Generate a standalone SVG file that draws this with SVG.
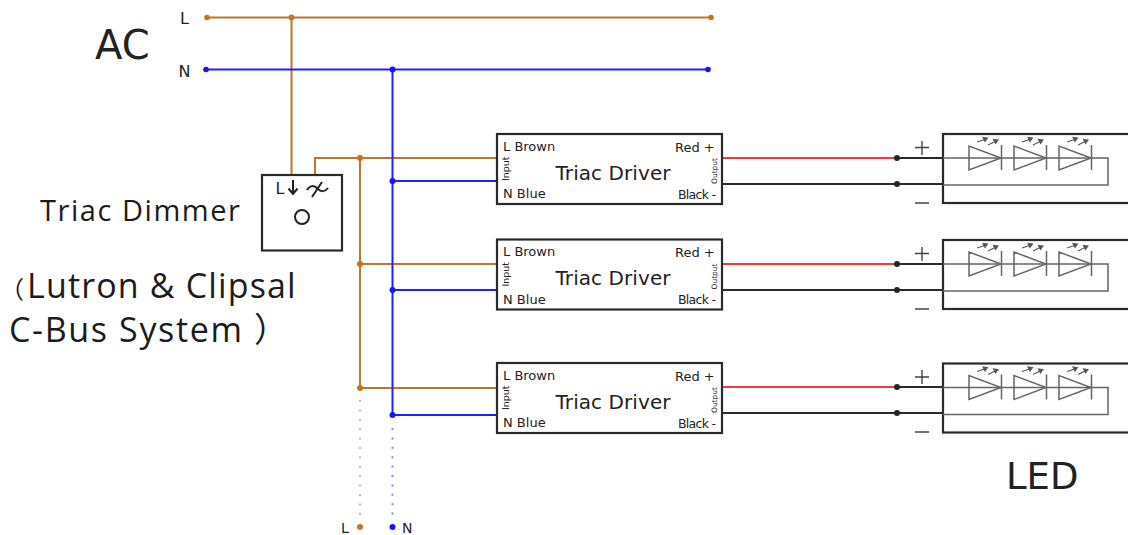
<svg xmlns="http://www.w3.org/2000/svg" width="1128" height="535" viewBox="0 0 1128 535">
<style>
text{font-family:"DejaVu Sans","Noto Sans",sans-serif;fill:#222}
.big{font-family:"Open Sans","Noto Sans CJK SC",sans-serif;fill:#1c1c1c}
.w{fill:none;stroke-width:2}
.br{stroke:#b9772f}.bl{stroke:#2020ff}.rd{stroke:#f23a40}.bk{stroke:#2a2a2a}
.box{fill:#fff;stroke:#2a2a2a;stroke-width:2.2}
.thin{fill:none;stroke:#666;stroke-width:1.5}
.arr{fill:#555;stroke:#555;stroke-width:1.1}
.t13{font-size:13px}.t12{font-size:12.500px}.t20{font-size:20px}
.dbr{fill:#c4771f}.dbl{fill:#1414ff}.dbk{fill:#222}
.dot{fill:none;stroke-width:2;stroke-dasharray:2 7.4;opacity:.55}
.sign{stroke:#444;stroke-width:1.4;fill:none}
</style>
<defs>
<g id="driver">
<rect class="box" width="225" height="70"/>
<text class="t13" x="6" y="16.500">L Brown</text>
<text class="t13" x="6" y="64">N Blue</text>
<text class="t13" x="178" y="17.500">Red +</text>
<text class="t12" x="181" y="64.500" textLength="38">Black -</text>
<text class="t20" x="58.500" y="45.500" textLength="115">Triac Driver</text>
<text transform="translate(12 47) rotate(-90)" style="font-size:9.500px">Input</text>
<text transform="translate(220 50) rotate(-90)" style="font-size:7.500px">Output</text>
</g>
<g id="led">
<path class="thin" d="M0 24H165V51H0"/>
<g id="d1">
<path class="thin" d="M26 12V36L58 24Z M58.500 11V36"/>
<path class="arr" d="M34 8L43 5M44.500 4L40 3.500L42 7.500Z M45 11L53 7M55 6L50.500 5.500L52.500 9.500Z"/>
</g>
<use href="#d1" x="45"/><use href="#d1" x="90"/>
</g>
</defs>

<g id="connectors">
<path class="w br" d="M207 17.500H711M291.500 17.500V175M315 175V158H497M360 158V388M360 264H497M360 388H497"/>
<path class="w bl" d="M206 69.500H708M392.500 69.500V415M392.500 181H497M392.500 290H497M392.500 415H497"/>
<path class="w rd" d="M722 158H896M722 264H896M722 387H896"/>
<path class="w bk" d="M896 158H943M896 264H943M896 387H943M722 184H943M722 290H943M722 413H943"/>
<path class="dot br" d="M360 400V515"/>
<path class="dot bl" d="M392.500 428V515"/>
<g class="dbr"><circle cx="207" cy="17.500" r="2.800"/><circle cx="291.500" cy="17.500" r="3"/><circle cx="711" cy="17.500" r="2.800"/><circle cx="360" cy="158" r="3"/><circle cx="360" cy="264" r="3"/><circle cx="360" cy="388" r="3"/><circle cx="360" cy="527" r="3"/></g>
<g class="dbl"><circle cx="206" cy="69.500" r="2.800"/><circle cx="392.500" cy="69.500" r="3"/><circle cx="708" cy="69.500" r="2.800"/><circle cx="392.500" cy="181" r="3"/><circle cx="392.500" cy="290" r="3"/><circle cx="392.500" cy="415" r="3"/><circle cx="392.500" cy="527" r="3"/></g>
<g class="dbk"><circle cx="897" cy="158" r="3"/><circle cx="897" cy="184" r="3"/><circle cx="897" cy="264" r="3"/><circle cx="897" cy="290" r="3"/><circle cx="897" cy="387" r="3"/><circle cx="897" cy="413" r="3"/></g>
</g>

<g id="ac-labels">
<text x="95" y="59" style="font-size:40px">AC</text>
<text x="180" y="24" style="font-size:16px">L</text>
<text x="178.500" y="77" style="font-size:16px">N</text>
</g>

<g id="dimmer">
<rect class="box" x="262" y="175" width="80" height="75.500"/>
<text x="275.500" y="194" style="font-size:16px">L</text>
<path d="M293 180V193M288.500 188.500L293 194L297.500 188.500" fill="none" stroke="#222" stroke-width="2"/>
<path d="M307 190C310 185 314 185 318 189C321 192 325 192 328 188M312 197L322 182" fill="none" stroke="#222" stroke-width="2"/>
<circle cx="302" cy="217" r="7" fill="none" stroke="#222" stroke-width="2"/>
<text class="big" x="40" y="220.500" style="font-size:29px;letter-spacing:1.550px">Triac Dimmer</text>
<text class="big" y="298" style="font-size:34px;letter-spacing:1.150px"><tspan x="0" style="font-size:24px">（</tspan><tspan x="27">Lutron &amp; Clipsal</tspan></text>
<text class="big" x="9" y="342" style="font-size:34px;letter-spacing:1.650px">C-Bus System ）</text>
</g>

<g id="driver1"><use href="#driver" x="497" y="134"/></g>
<g id="driver2"><use href="#driver" x="497" y="239.500"/></g>
<g id="driver3"><use href="#driver" x="497" y="363"/></g>

<g id="led1">
<rect class="box" x="943" y="134" width="190" height="69"/>
<use href="#led" x="943" y="134"/>
<path class="sign" d="M915 147.500H929M922 141V155M915 203H929"/>
</g>
<g id="led2">
<rect class="box" x="943" y="240" width="190" height="69"/>
<use href="#led" x="943" y="240"/>
<path class="sign" d="M915 253.500H929M922 247V261M915 309H929"/>
</g>
<g id="led3">
<rect class="box" x="943" y="363.500" width="190" height="69"/>
<use href="#led" x="943" y="363.500"/>
<path class="sign" d="M915 377H929M922 370V384M915 432H929"/>
</g>

<g id="bottom-labels">
<text x="341" y="533" style="font-size:14px">L</text>
<text x="402" y="533" style="font-size:14px">N</text>
<text x="1006" y="489" style="font-size:37px">LED</text>
</g>
</svg>
